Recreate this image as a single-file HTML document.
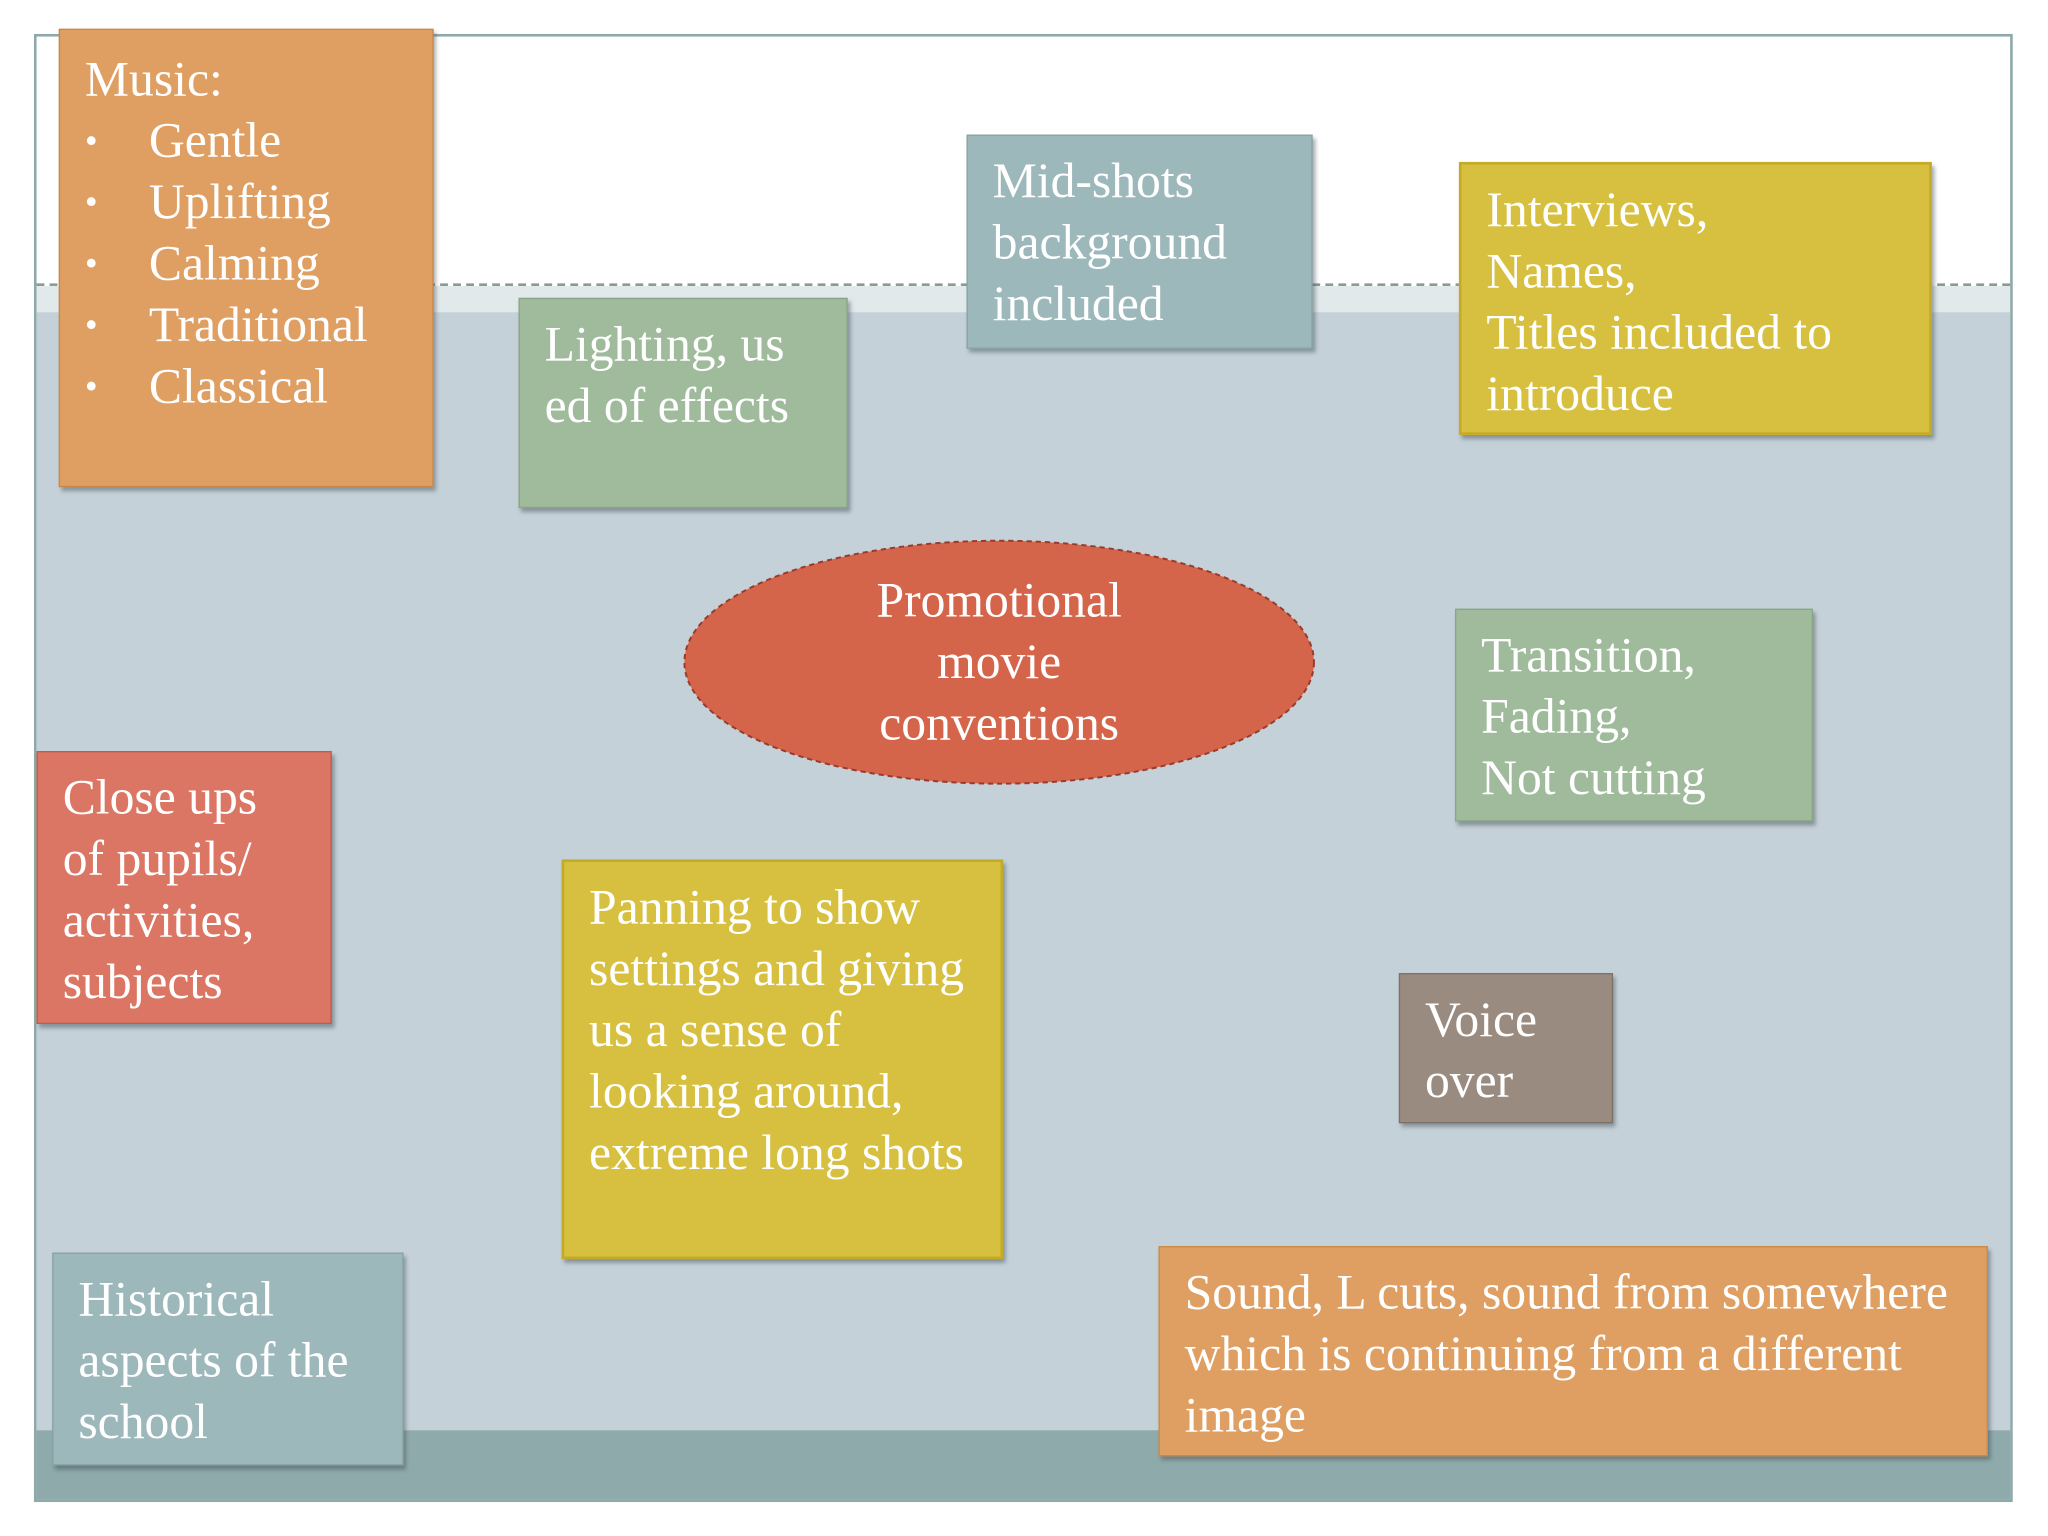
<!DOCTYPE html>
<html><head><meta charset="utf-8"><style>
html,body{margin:0;padding:0;background:#fff;}
#w{position:absolute;left:0;top:0;width:1568px;height:1176px;transform:scale(1.30612);transform-origin:0 0;overflow:hidden;background:#fff;}
.a{position:absolute;}
.b{position:absolute;box-sizing:border-box;color:#fff;font-family:"Liberation Serif",serif;font-size:38px;line-height:47px;padding:12px 19px;box-shadow:2px 3px 3px rgba(60,70,80,.45);}
ul{margin:0;padding:0;list-style:none;}
li{position:relative;padding-left:49px;}
li:before{content:"•";position:absolute;left:0;font-size:28px;}
</style></head><body><div id="w">
<div class="a" style="left:26px;top:26px;width:1515px;height:1124px;border:2px solid #8fa9aa;box-sizing:border-box;"></div>
<div class="a" style="left:28px;top:219px;width:1511px;height:20px;background:#e2e9ea;"></div>
<div class="a" style="left:28px;top:239px;width:1511px;height:856px;background:#c5d1d8;"></div>
<div class="a" style="left:28px;top:1095px;width:1511px;height:53px;background:#8eaaaa;"></div>
<div class="a" style="left:28px;top:217px;width:1511px;border-top:2px dashed #8a9a9a;"></div>

<div class="b" style="left:45px;top:22px;width:287px;height:351px;background:#df9f62;border:1px solid #c98848;padding-top:15px;">Music:<ul><li>Gentle</li><li>Uplifting</li><li>Calming</li><li>Traditional</li><li>Classical</li></ul></div>
<div class="b" style="left:397px;top:228px;width:252px;height:161px;background:#9fbb9c;border:1px solid #88a585;">Lighting, us<br>ed of effects</div>
<div class="b" style="left:740px;top:103px;width:265px;height:164px;background:#9db8bb;border:1px solid #86a2a5;">Mid-shots background included</div>
<div class="b" style="left:1117px;top:124px;width:362px;height:209px;background:#d7c040;border:2px solid #c5ab25;">Interviews,<br>Names,<br>Titles included to introduce</div>

<svg class="a" style="left:0;top:0" width="1568" height="1176"><ellipse cx="765" cy="507" rx="241" ry="93" fill="#d4644a" stroke="#9a3a2a" stroke-width="1.5" stroke-dasharray="4 3"/></svg>
<div class="a" style="left:560px;top:437px;width:410px;text-align:center;color:#fff;font-family:'Liberation Serif',serif;font-size:38px;line-height:47px;">Promotional<br>movie<br>conventions</div>

<div class="b" style="left:1114px;top:466px;width:274px;height:163px;background:#9fbb9c;border:1px solid #88a585;">Transition,<br>Fading,<br>Not cutting</div>
<div class="b" style="left:28px;top:575px;width:226px;height:209px;background:#dc7664;border:1px solid #c55a48;">Close ups of pupils/ activities, subjects</div>
<div class="b" style="left:430px;top:658px;width:338px;height:306px;background:#d7c040;border:2px solid #c5ab25;">Panning to show settings and giving us a sense of looking around, extreme long shots</div>
<div class="b" style="left:1071px;top:745px;width:164px;height:115px;background:#9a8b80;border:1px solid #7f7065;">Voice<br>over</div>
<div class="b" style="left:40px;top:959px;width:269px;height:163px;background:#9db8bb;border:1px solid #86a2a5;">Historical aspects of the school</div>
<div class="b" style="left:887px;top:954px;width:635px;height:161px;background:#df9f62;border:1px solid #c98848;">Sound, L cuts, sound from somewhere which is continuing from a different image</div>
</div></body></html>
